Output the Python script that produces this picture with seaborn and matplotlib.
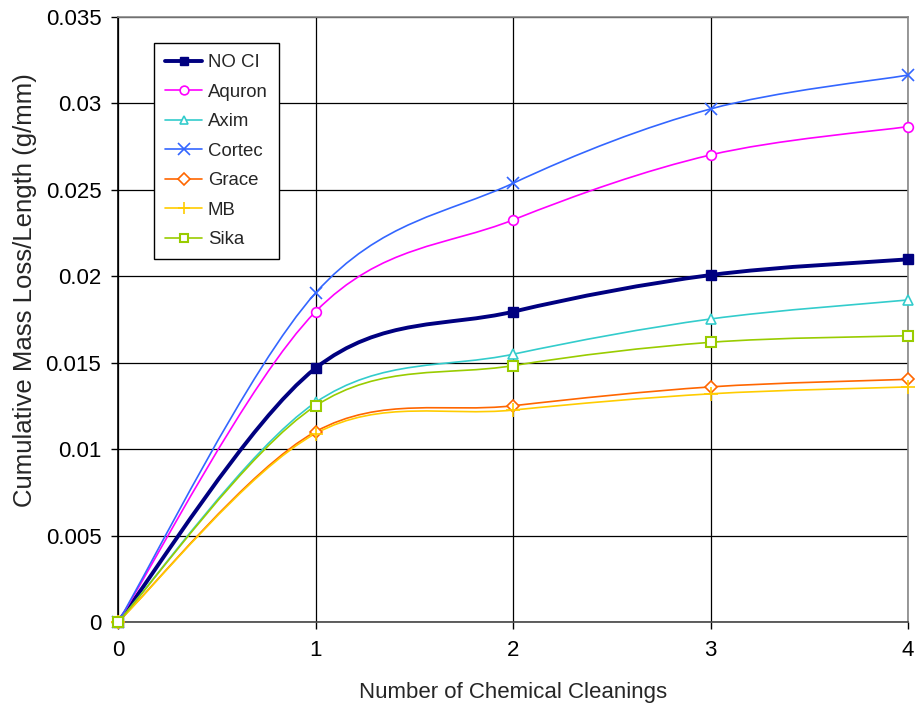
import numpy as np
import matplotlib
matplotlib.use("Agg")
import matplotlib.pyplot as plt
import seaborn as sns
from matplotlib.path import Path
from matplotlib.patches import PathPatch
from matplotlib.lines import Line2D

# data
cleanings = [0, 1, 2, 3, 4]
no_ci = [0, 0.01468, 0.01795, 0.02007, 0.02098]
aquron = [0, 0.01795, 0.02326, 0.02702, 0.02866]
axim = [0, 0.0127, 0.01549, 0.01753, 0.01863]
cortec = [0, 0.01903, 0.02538, 0.02968, 0.03164]
grace = [0, 0.01101, 0.01251, 0.0136, 0.01404]
mb = [0, 0.0109, 0.01226, 0.0132, 0.0136]
sika = [0, 0.0125, 0.01483, 0.01618, 0.01656]

series_names = ["NO CI", "Aquron", "Axim", "Cortec", "Grace", "MB", "Sika"]
series_values = [no_ci, aquron, axim, cortec, grace, mb, sika]

y_ticks = [0, 0.005, 0.01, 0.015, 0.02, 0.025, 0.03, 0.035]
y_tick_labels = ["0", "0.005", "0.01", "0.015", "0.02", "0.025", "0.03", "0.035"]

styles = {
    "NO CI": dict(color="#000080", marker="s", lw=2.8, ms=7, mfc="#000080", mew=1),
    "Aquron": dict(color="#FF00FF", marker="o", lw=1.2, ms=7, mfc="white", mew=1.2),
    "Axim": dict(color="#33CCCC", marker="^", lw=1.2, ms=7, mfc="white", mew=1.2),
    "Cortec": dict(color="#3366FF", marker="x", lw=1.2, ms=9, mfc="none", mew=1.2),
    "Grace": dict(color="#FF6600", marker="D", lw=1.2, ms=6.5, mfc="white", mew=1.2),
    "MB": dict(color="#FFCC00", marker="+", lw=1.2, ms=10, mfc="none", mew=1.2),
    "Sika": dict(color="#99CC00", marker="s", lw=1.2, ms=7, mfc="white", mew=1.5),
}


def smooth_path(x, y):
    # Excel-like smoothed line: cubic bezier through the data points
    pts = np.column_stack([x, y]).astype(float)
    n = len(pts)
    verts = [pts[0]]
    codes = [Path.MOVETO]
    for i in range(n - 1):
        p_prev = pts[i - 1] if i > 0 else pts[i]
        p_next = pts[i + 2] if i + 2 < n else pts[i + 1]
        c1 = pts[i] + (pts[i + 1] - p_prev) / 6
        c2 = pts[i + 1] - (p_next - pts[i]) / 6
        verts += [c1, c2, pts[i + 1]]
        codes += [Path.CURVE4] * 3
    return Path(verts, codes)


sns.set_style("white")
plt.rcParams["font.family"] = ["Liberation Sans", "DejaVu Sans"]

fig = plt.figure(figsize=(9.15, 7.08), dpi=100)
ax = fig.add_axes([118 / 915, 1 - 622 / 708, 790 / 915, 605 / 708])

ax.set_xlim(0, 4)
ax.set_ylim(0, 0.035)
ax.set_xticks(cleanings)
ax.set_yticks(y_ticks)
ax.set_yticklabels(y_tick_labels)
ax.grid(True, color="black", lw=0.9)
ax.set_axisbelow(True)

handles = []
for name, vals in zip(series_names, series_values):
    st = styles[name]
    patch = PathPatch(smooth_path(cleanings, vals), facecolor="none",
                      edgecolor=st["color"], lw=st["lw"], zorder=3)
    ax.add_patch(patch)
    sns.lineplot(x=cleanings, y=vals, ax=ax, linestyle="", marker=st["marker"],
                 markersize=st["ms"], markerfacecolor=st["mfc"],
                 markeredgecolor=st["color"], markeredgewidth=st["mew"],
                 color=st["color"], zorder=4, clip_on=False)
    handles.append(Line2D([], [], color=st["color"], lw=st["lw"], marker=st["marker"],
                          markersize=st["ms"] * 0.9, markerfacecolor=st["mfc"],
                          markeredgecolor=st["color"], markeredgewidth=st["mew"]))

for side in ["top", "right"]:
    ax.spines[side].set_visible(True)
    ax.spines[side].set_color("#888888")
ax.spines["left"].set_color("black")
ax.spines["bottom"].set_color("#444444")
for sp in ax.spines.values():
    sp.set_linewidth(1.2)

ax.tick_params(axis="both", direction="out", length=5, width=1, labelsize=16,
               colors="black", bottom=True, left=True)
ax.tick_params(axis="x", pad=8)
ax.tick_params(axis="y", pad=7)

ax.set_xlabel("Number of Chemical Cleanings", fontsize=16, labelpad=15)
ax.set_ylabel("Cumulative Mass Loss/Length (g/mm)", fontsize=18.5)
ax.yaxis.set_label_coords(-0.1025, 0.549)

leg = ax.legend(handles, series_names, loc="upper left", bbox_to_anchor=(0.0456, 0.957),
                borderaxespad=0, fontsize=13.4, frameon=True, fancybox=False,
                handlelength=2.0, labelspacing=0.67, borderpad=0.6, handletextpad=0.3)
leg.get_frame().set_edgecolor("black")
leg.get_frame().set_linewidth(1)
leg.get_frame().set_alpha(1)

fig.savefig("out.png", dpi=100)
